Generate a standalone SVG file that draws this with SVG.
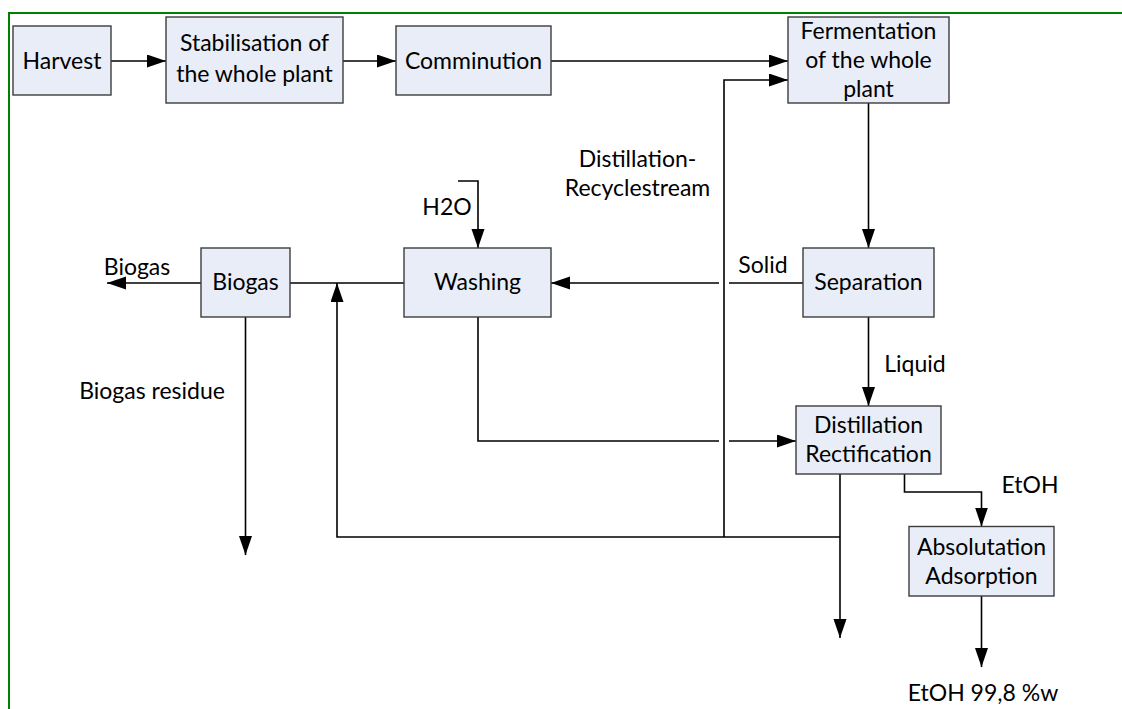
<svg xmlns="http://www.w3.org/2000/svg" width="1122" height="709" viewBox="0 0 1122 709">
  <style>
    .box { fill: #e8edf7; stroke: #3c3c3c; stroke-width: 1.4; }
    .lbl { font-family: "Lato", "Liberation Sans", sans-serif; font-size: 23px; fill: #000; text-anchor: middle; }
    .wire { fill: none; stroke: #000; stroke-width: 1.6; }
    .arr { marker-end: url(#head); }
    .frame { fill: none; stroke: #008000; stroke-width: 2; }
  </style>
  <defs>
    <marker id="head" markerUnits="userSpaceOnUse" markerWidth="20" markerHeight="14" refX="19" refY="6.5" orient="auto">
      <path d="M0,0 L19,6.5 L0,13 Z" fill="#000"/>
    </marker>
  </defs>

  <rect width="1122" height="709" fill="#fff"/>
  <!-- page frame -->
  <path class="frame" d="M9,709 V13 H1122"/>

  <!-- connectors -->
  <g id="connectors">
    <path class="wire arr" d="M111,61 H166"/>
    <path class="wire arr" d="M343,61 H396"/>
    <path class="wire arr" d="M551,61 H788"/>
    <path class="wire arr" d="M724,537 V80 H788"/>
    <path class="wire arr" d="M868.5,103 V248"/>
    <path class="wire" d="M803,283 H729"/>
    <path class="wire arr" d="M719,283 H551"/>
    <path class="wire arr" d="M458,181 H478 V248"/>
    <path class="wire" d="M404,283 H290"/>
    <path class="wire arr" d="M840,537 H337 V283"/>
    <path class="wire arr" d="M201,283 H107"/>
    <path class="wire arr" d="M245.5,317 V555"/>
    <path class="wire" d="M478,317 V441 H719"/>
    <path class="wire arr" d="M729,441 H796"/>
    <path class="wire arr" d="M868.5,317 V406"/>
    <path class="wire arr" d="M840,474 V638"/>
    <path class="wire arr" d="M904.5,474 V492 H981.5 V526.5"/>
    <path class="wire arr" d="M981.5,596 V667"/>
  </g>

  <!-- stream labels -->
  <g id="labels">
    <text class="lbl" x="137" y="275">Biogas</text>
    <text class="lbl" x="152" y="398.5">Biogas residue</text>
    <text class="lbl" x="447" y="215">H2O</text>
    <text class="lbl" x="637.5" y="166.5">Distillation-</text>
    <text class="lbl" x="637.5" y="195.5">Recyclestream</text>
    <text class="lbl" x="763" y="273">Solid</text>
    <text class="lbl" x="915" y="371.5">Liquid</text>
    <text class="lbl" x="1030" y="492.5">EtOH</text>
    <text class="lbl" x="983" y="700.5">EtOH 99,8 %w</text>
  </g>

  <!-- process steps -->
  <g id="harvest">
    <rect class="box" x="13" y="26" width="98" height="69"/>
    <text class="lbl" x="62" y="68.5">Harvest</text>
  </g>
  <g id="stabilisation">
    <rect class="box" x="166" y="17" width="177" height="86"/>
    <text class="lbl" x="254.5" y="51">Stabilisation of</text>
    <text class="lbl" x="254.5" y="81.5">the whole plant</text>
  </g>
  <g id="comminution">
    <rect class="box" x="396" y="26" width="155" height="69"/>
    <text class="lbl" x="473.5" y="68.5">Comminution</text>
  </g>
  <g id="fermentation">
    <rect class="box" x="788" y="17" width="161" height="86"/>
    <text class="lbl" x="868.5" y="39">Fermentation</text>
    <text class="lbl" x="868.5" y="68">of the whole</text>
    <text class="lbl" x="868.5" y="96.5">plant</text>
  </g>
  <g id="separation">
    <rect class="box" x="803" y="248" width="131" height="69"/>
    <text class="lbl" x="868.5" y="290">Separation</text>
  </g>
  <g id="washing">
    <rect class="box" x="404" y="248" width="147" height="69"/>
    <text class="lbl" x="477.5" y="290">Washing</text>
  </g>
  <g id="biogas">
    <rect class="box" x="201" y="248" width="89" height="69"/>
    <text class="lbl" x="245.5" y="290">Biogas</text>
  </g>
  <g id="distillation">
    <rect class="box" x="796" y="406" width="145" height="68"/>
    <text class="lbl" x="868.5" y="433">Distillation</text>
    <text class="lbl" x="868.5" y="462">Rectification</text>
  </g>
  <g id="absolutation">
    <rect class="box" x="909" y="526.5" width="145" height="69.5"/>
    <text class="lbl" x="981.5" y="554.5">Absolutation</text>
    <text class="lbl" x="981.5" y="583.5">Adsorption</text>
  </g>
</svg>
